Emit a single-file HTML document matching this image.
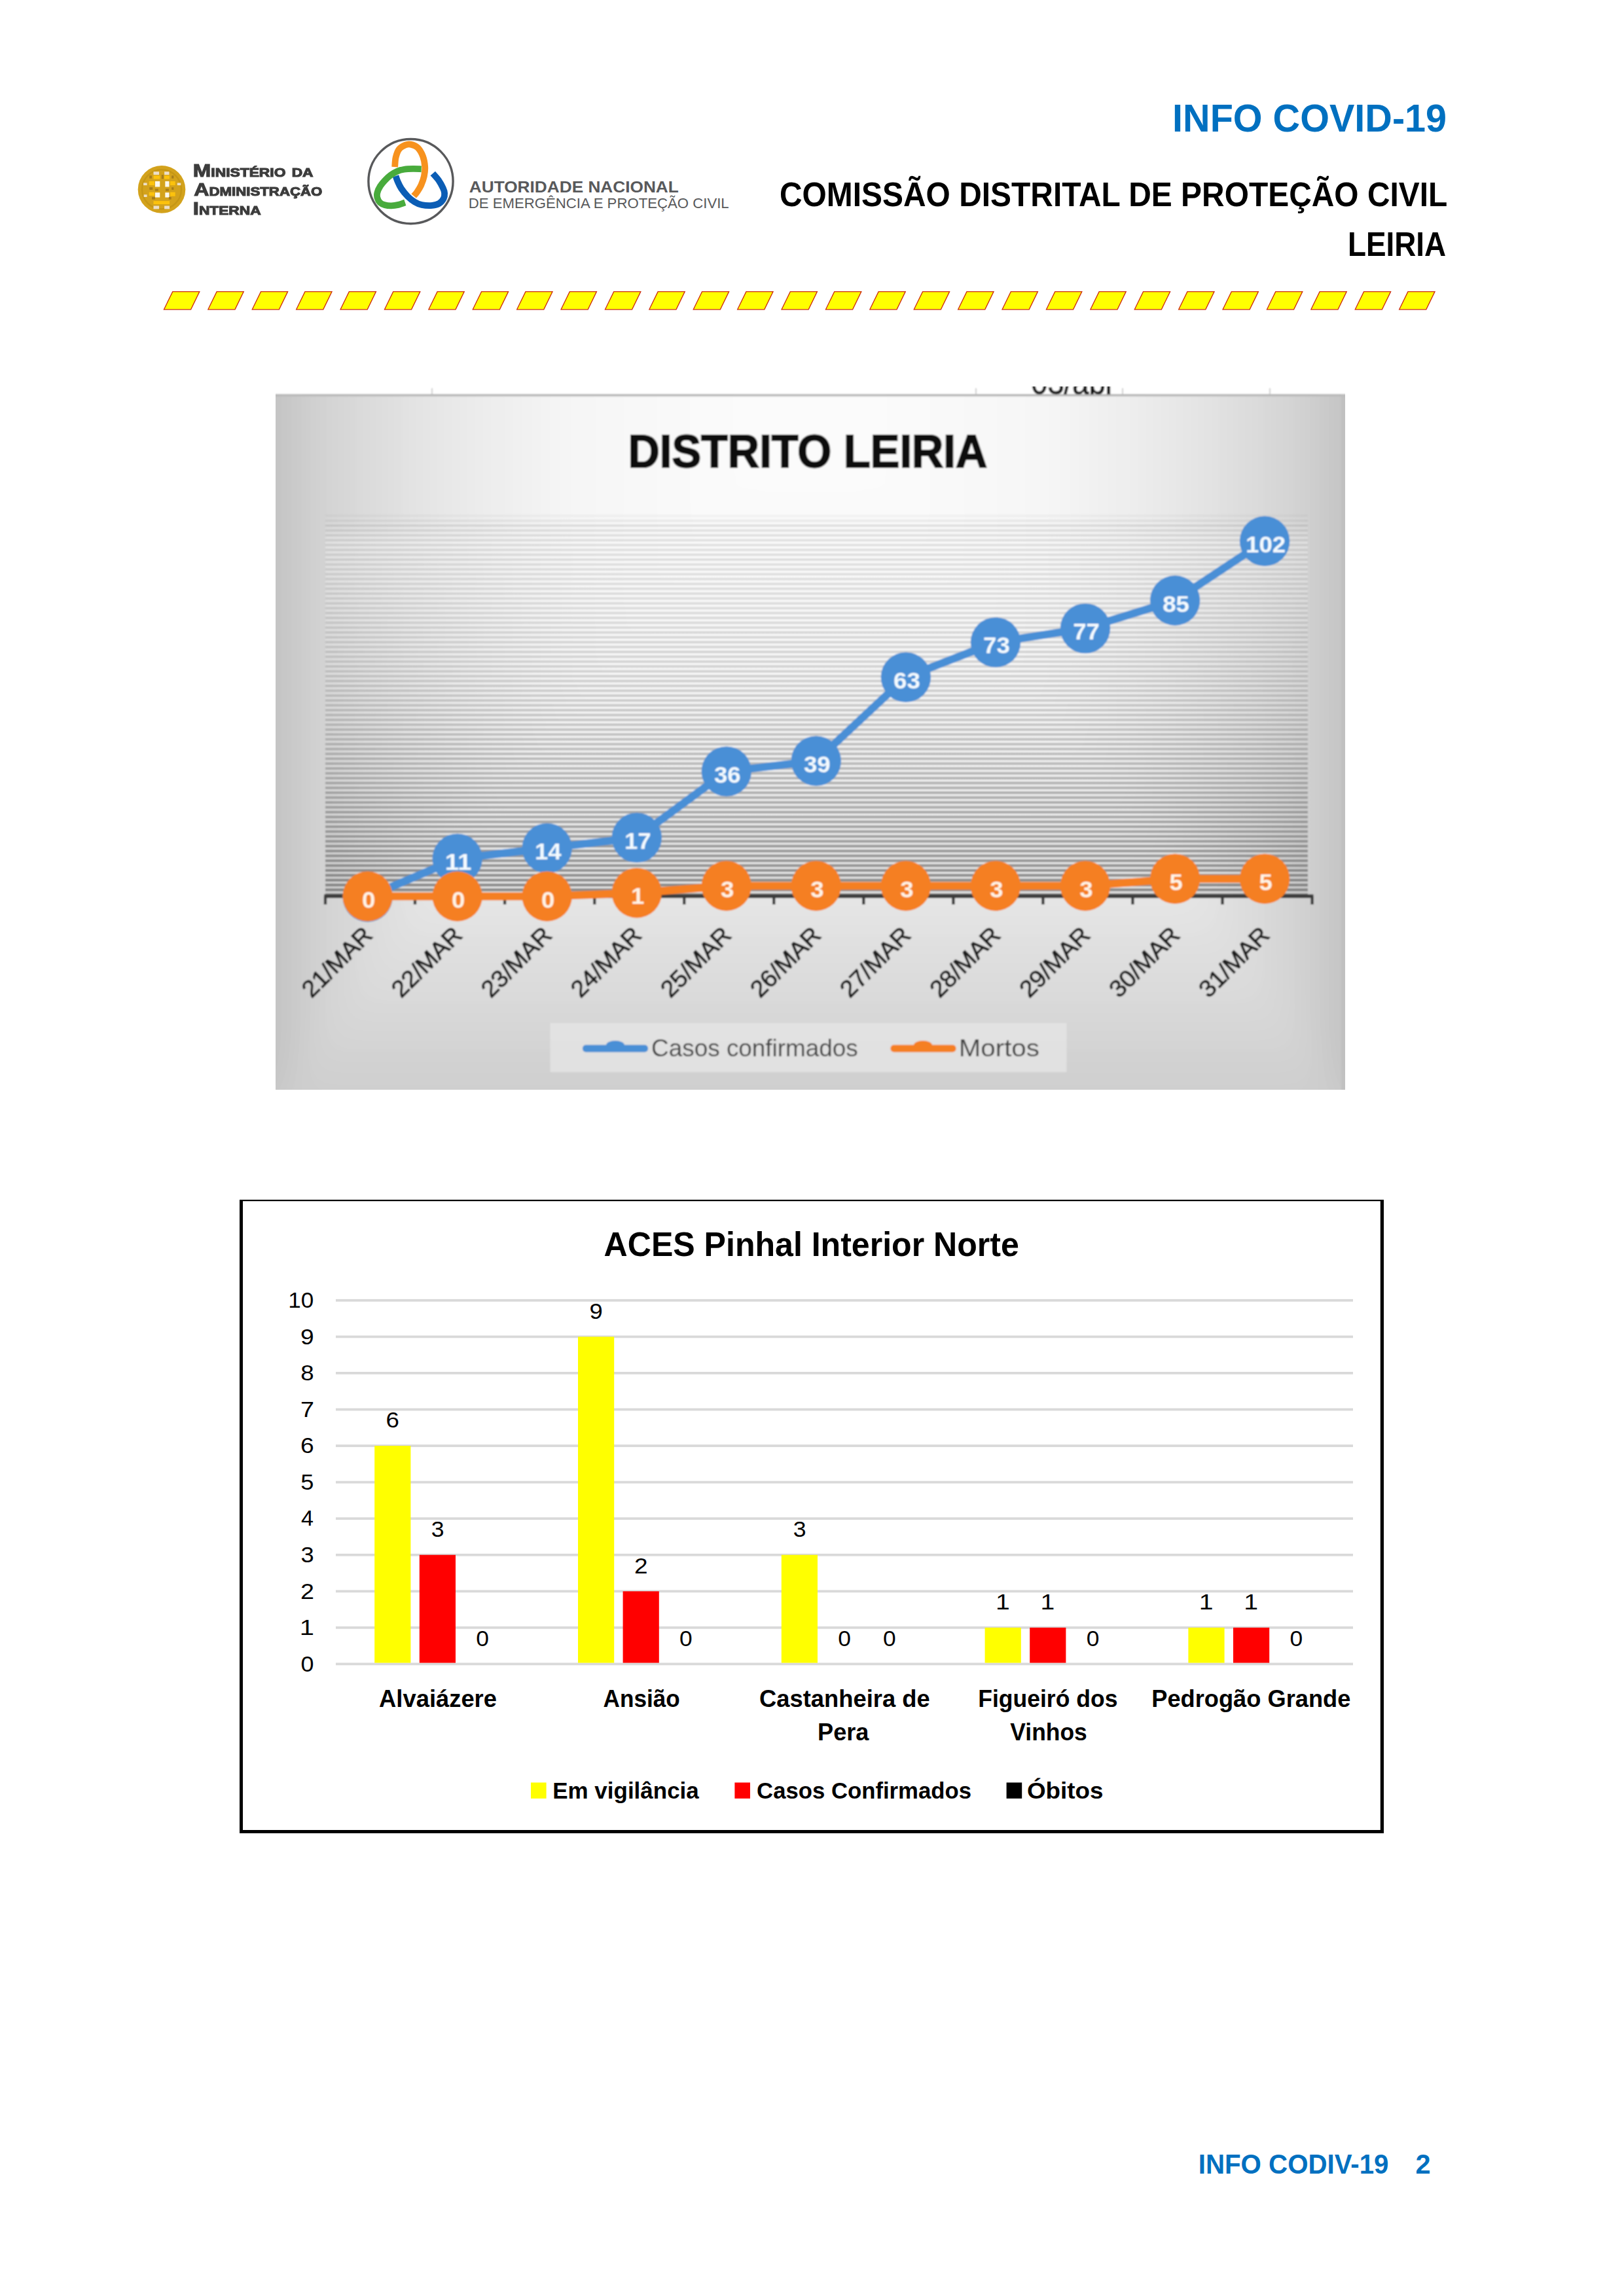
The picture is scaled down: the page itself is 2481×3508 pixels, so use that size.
<!DOCTYPE html>
<html lang="pt"><head><meta charset="utf-8"><title>INFO COVID-19 - Comissão Distrital de Proteção Civil Leiria</title>
<style>
html,body{margin:0;padding:0;background:#fff}
svg{display:block}
text{font-family:"Liberation Sans",sans-serif;white-space:pre}
</style></head><body>
<svg width="2481" height="3508" viewBox="0 0 2481 3508">
<defs>
<linearGradient id="gL" gradientUnits="userSpaceOnUse" x1="1238" y1="0" x2="421" y2="0"><stop offset="0" stop-color="#fcfcfc"/><stop offset="0.41" stop-color="#f7f7f7"/><stop offset="0.54" stop-color="#f1f1f1"/><stop offset="0.66" stop-color="#e9e9e9"/><stop offset="0.78" stop-color="#e0e0e0"/><stop offset="0.9" stop-color="#d4d4d4"/><stop offset="0.96" stop-color="#cccccc"/><stop offset="1.0" stop-color="#c1c1c1"/></linearGradient>
<linearGradient id="gR" gradientUnits="userSpaceOnUse" x1="1238" y1="0" x2="2055" y2="0"><stop offset="0" stop-color="#fcfcfc"/><stop offset="0.41" stop-color="#f7f7f7"/><stop offset="0.54" stop-color="#f1f1f1"/><stop offset="0.66" stop-color="#e9e9e9"/><stop offset="0.78" stop-color="#e0e0e0"/><stop offset="0.9" stop-color="#d4d4d4"/><stop offset="0.96" stop-color="#cccccc"/><stop offset="1.0" stop-color="#c1c1c1"/></linearGradient>
<linearGradient id="gB" gradientUnits="userSpaceOnUse" x1="0" y1="602" x2="0" y2="1665"><stop offset="0" stop-color="#fcfcfc"/><stop offset="0.41" stop-color="#f7f7f7"/><stop offset="0.54" stop-color="#f1f1f1"/><stop offset="0.66" stop-color="#eaeaea"/><stop offset="0.78" stop-color="#e1e1e1"/><stop offset="0.9" stop-color="#d7d7d7"/><stop offset="1.0" stop-color="#cecece"/></linearGradient>
<filter id="blur" x="-2%" y="-2%" width="104%" height="104%"><feGaussianBlur stdDeviation="1.3"/></filter>
<filter id="bgblur" filterUnits="userSpaceOnUse" x="221" y="402" width="2034" height="1463"><feGaussianBlur stdDeviation="28"/></filter>
<filter id="blur2" x="-5%" y="-5%" width="110%" height="110%"><feGaussianBlur stdDeviation="0.7"/></filter>
<clipPath id="chartclip"><rect x="421" y="590.5" width="1634" height="1074.5"/></clipPath>
</defs>
<rect width="2481" height="3508" fill="#fff"/>

<g filter="url(#blur2)">
<circle cx="247" cy="289.4" r="36.3" fill="#d3a21a"/>
<circle cx="247" cy="289.4" r="30" fill="none" stroke="#b98d14" stroke-width="2.2" opacity="0.55"/>
<rect x="236.9" y="276.9" width="7.4" height="8.6" fill="#ffffff" opacity="0.92"/>
<rect x="252.3" y="276.9" width="6.2" height="8.6" fill="#ffffff" opacity="0.92"/>
<rect x="236.9" y="294.2" width="7.4" height="7.4" fill="#ffffff" opacity="0.92"/>
<rect x="252.3" y="294.2" width="6.2" height="7.4" fill="#ffffff" opacity="0.92"/>
<rect x="219.1" y="279.4" width="5.5" height="3.7" fill="#efe4d6" opacity="0.92"/>
<rect x="270.8" y="279.4" width="5.5" height="3.7" fill="#efe4d6" opacity="0.92"/>
<rect x="219.7" y="297.3" width="4.9" height="3.7" fill="#efe4d6" opacity="0.92"/>
<rect x="234.5" y="262.2" width="8.6" height="4.9" fill="#efe4d6" opacity="0.92"/>
<rect x="251.1" y="262.2" width="7.4" height="4.9" fill="#efe4d6" opacity="0.92"/>
<rect x="234.5" y="314.5" width="8.6" height="4.9" fill="#efe4d6" opacity="0.92"/>
<rect x="251.1" y="314.5" width="8.0" height="4.9" fill="#efe4d6" opacity="0.92"/>
<rect x="234.5" y="268.3" width="9.9" height="5.2" fill="#ffc40a" opacity="0.92"/>
<rect x="251.1" y="268.3" width="8.0" height="5.2" fill="#ffc40a" opacity="0.92"/>
<rect x="227.7" y="276.9" width="8.3" height="6.2" fill="#ffc40a" opacity="0.92"/>
<rect x="260.0" y="276.9" width="7.7" height="6.2" fill="#ffc40a" opacity="0.92"/>
<rect x="227.7" y="293.6" width="8.3" height="5.5" fill="#ffc40a" opacity="0.92"/>
<rect x="260.0" y="293.6" width="7.7" height="6.2" fill="#ffc40a" opacity="0.92"/>
<rect x="234.5" y="307.1" width="24.6" height="4.9" fill="#ffc40a" opacity="0.92"/>
<rect x="228.3" y="286.2" width="4.9" height="3.7" fill="#a2781a" opacity="0.92"/>
<rect x="236.9" y="288.6" width="4.9" height="3.1" fill="#a2781a" opacity="0.92"/>
<rect x="253.0" y="288.6" width="4.9" height="3.1" fill="#a2781a" opacity="0.92"/>
<rect x="262.2" y="286.2" width="3.1" height="3.7" fill="#a2781a" opacity="0.92"/>
<rect x="232.0" y="301.0" width="4.9" height="3.7" fill="#a2781a" opacity="0.92"/>
<rect x="257.9" y="301.0" width="3.7" height="3.7" fill="#a2781a" opacity="0.92"/>
<rect x="246.8" y="267.1" width="3.1" height="6.2" fill="#a2781a" opacity="0.92"/>
<rect x="262.2" y="268.3" width="3.1" height="4.3" fill="#a2781a" opacity="0.92"/>
<rect x="228.3" y="268.3" width="3.7" height="4.3" fill="#a2781a" opacity="0.92"/>
</g>
<g filter="url(#blur2)">
<text x="294.8" y="270.3" font-size="27.5" font-weight="bold" fill="#3c3c3c" textLength="183.8" lengthAdjust="spacingAndGlyphs" style="font-variant:small-caps" stroke="#3c3c3c" stroke-width="1.1">Ministério da</text>
<text x="296.2" y="298.8" font-size="27.5" font-weight="bold" fill="#3c3c3c" textLength="196.2" lengthAdjust="spacingAndGlyphs" style="font-variant:small-caps" stroke="#3c3c3c" stroke-width="1.1">Administração</text>
<text x="294.8" y="327.8" font-size="27.5" font-weight="bold" fill="#3c3c3c" textLength="103.8" lengthAdjust="spacingAndGlyphs" style="font-variant:small-caps" stroke="#3c3c3c" stroke-width="1.1">Interna</text>
</g>
<g fill="none" stroke-linecap="butt">
<circle cx="627.5" cy="277.1" r="64.6" stroke="#58595b" stroke-width="3.4"/>
<path d="M661.25 265.00 C662.74 266.76 667.57 271.77 670.18 275.54 C672.78 279.30 675.39 284.32 676.88 287.59 C678.36 290.86 678.96 292.57 679.11 295.18 C679.26 297.78 679.11 300.61 677.77 303.21 C676.43 305.82 673.97 309.02 671.07 310.80 C668.17 312.59 664.82 313.56 660.36 313.93 C655.89 314.30 648.75 313.93 644.29 313.04 C639.82 312.14 637.14 310.73 633.57 308.57 C630.00 306.41 626.28 303.51 622.86 300.09 C619.43 296.67 615.64 291.98 613.04 288.04 C610.43 284.09 608.65 279.63 607.23 276.43 C605.82 273.23 605.00 270.10 604.55 268.84" stroke="#0b5db5" stroke-width="9.8"/>
<path transform="rotate(0 627.5 277.1)" d="M603.20 255.10 C603.43 252.70 603.55 245.18 604.60 240.70 C605.65 236.22 607.05 231.40 609.50 228.20 C611.95 225.00 616.33 222.77 619.30 221.50 C622.27 220.23 624.18 219.93 627.30 220.60 C630.42 221.27 634.87 222.45 638.00 225.50 C641.13 228.55 644.23 233.98 646.10 238.90 C647.97 243.82 648.90 249.93 649.20 255.00 C649.50 260.07 648.87 264.68 647.90 269.30 C646.93 273.92 645.20 278.68 643.40 282.70 C641.60 286.72 638.98 290.63 637.10 293.40 C635.22 296.17 632.93 298.32 632.10 299.30" stroke="#f7921e" stroke-width="9.8"/>
<path d="M643.75 258.30 C641.61 258.23 635.27 257.78 630.89 257.86 C626.52 257.93 621.52 258.11 617.50 258.75 C613.48 259.39 610.21 260.24 606.79 261.70 C603.36 263.15 600.09 265.19 596.96 267.50 C593.84 269.81 590.71 272.71 588.04 275.54 C585.36 278.36 582.83 281.34 580.89 284.46 C578.96 287.59 577.17 291.31 576.43 294.29 C575.68 297.26 575.76 299.79 576.43 302.32 C577.10 304.85 578.51 307.65 580.45 309.46 C582.38 311.28 585.13 312.41 588.04 313.21 C590.94 314.02 594.43 314.35 597.86 314.29 C601.28 314.23 605.07 313.66 608.57 312.86 C612.07 312.05 617.13 310.03 618.84 309.46" stroke="#48ab3c" stroke-width="9.8"/>
</g>
<text x="716.8" y="293.6" font-size="24.6" font-weight="bold" fill="#58595b" textLength="320.0" lengthAdjust="spacingAndGlyphs">AUTORIDADE NACIONAL</text>
<text x="715.7" y="317.6" font-size="21.4" font-weight="normal" fill="#58595b" textLength="398.0" lengthAdjust="spacingAndGlyphs">DE EMERGÊNCIA E PROTEÇÃO CIVIL</text>
<text x="1791.1" y="200.6" font-size="58.6" font-weight="bold" fill="#0070c0" textLength="419.0" lengthAdjust="spacingAndGlyphs">INFO COVID-19</text>
<text x="1191.0" y="314.6" font-size="52.3" font-weight="bold" fill="#000" textLength="1020.4" lengthAdjust="spacingAndGlyphs">COMISSÃO DISTRITAL DE PROTEÇÃO CIVIL</text>
<text x="2058.9" y="391.0" font-size="52.3" font-weight="bold" fill="#000" textLength="150.3" lengthAdjust="spacingAndGlyphs">LEIRIA</text>
<g fill="#ffff00" stroke="#cc2a0a" stroke-width="1.3" stroke-linejoin="miter">
<path d="M250.5 472.8 L263.7 445.6 L304.8 445.6 L291.6 472.8 Z"/>
<path d="M317.9 472.8 L331.1 445.6 L372.2 445.6 L359.0 472.8 Z"/>
<path d="M385.3 472.8 L398.5 445.6 L439.6 445.6 L426.4 472.8 Z"/>
<path d="M452.7 472.8 L465.9 445.6 L507.0 445.6 L493.8 472.8 Z"/>
<path d="M520.1 472.8 L533.3 445.6 L574.4 445.6 L561.2 472.8 Z"/>
<path d="M587.5 472.8 L600.7 445.6 L641.8 445.6 L628.6 472.8 Z"/>
<path d="M654.9 472.8 L668.1 445.6 L709.2 445.6 L696.0 472.8 Z"/>
<path d="M722.3 472.8 L735.5 445.6 L776.6 445.6 L763.4 472.8 Z"/>
<path d="M789.7 472.8 L802.9 445.6 L844.0 445.6 L830.8 472.8 Z"/>
<path d="M857.1 472.8 L870.3 445.6 L911.4 445.6 L898.2 472.8 Z"/>
<path d="M924.5 472.8 L937.7 445.6 L978.8 445.6 L965.6 472.8 Z"/>
<path d="M991.9 472.8 L1005.1 445.6 L1046.2 445.6 L1033.0 472.8 Z"/>
<path d="M1059.3 472.8 L1072.5 445.6 L1113.6 445.6 L1100.4 472.8 Z"/>
<path d="M1126.7 472.8 L1139.9 445.6 L1181.0 445.6 L1167.8 472.8 Z"/>
<path d="M1194.1 472.8 L1207.3 445.6 L1248.4 445.6 L1235.2 472.8 Z"/>
<path d="M1261.5 472.8 L1274.7 445.6 L1315.8 445.6 L1302.6 472.8 Z"/>
<path d="M1328.9 472.8 L1342.1 445.6 L1383.2 445.6 L1370.0 472.8 Z"/>
<path d="M1396.3 472.8 L1409.5 445.6 L1450.6 445.6 L1437.4 472.8 Z"/>
<path d="M1463.7 472.8 L1476.9 445.6 L1518.0 445.6 L1504.8 472.8 Z"/>
<path d="M1531.1 472.8 L1544.3 445.6 L1585.4 445.6 L1572.2 472.8 Z"/>
<path d="M1598.5 472.8 L1611.7 445.6 L1652.8 445.6 L1639.6 472.8 Z"/>
<path d="M1665.9 472.8 L1679.1 445.6 L1720.2 445.6 L1707.0 472.8 Z"/>
<path d="M1733.3 472.8 L1746.5 445.6 L1787.6 445.6 L1774.4 472.8 Z"/>
<path d="M1800.7 472.8 L1813.9 445.6 L1855.0 445.6 L1841.8 472.8 Z"/>
<path d="M1868.1 472.8 L1881.3 445.6 L1922.4 445.6 L1909.2 472.8 Z"/>
<path d="M1935.5 472.8 L1948.7 445.6 L1989.8 445.6 L1976.6 472.8 Z"/>
<path d="M2002.9 472.8 L2016.1 445.6 L2057.2 445.6 L2044.0 472.8 Z"/>
<path d="M2070.3 472.8 L2083.5 445.6 L2124.6 445.6 L2111.4 472.8 Z"/>
<path d="M2137.7 472.8 L2150.9 445.6 L2192.0 445.6 L2178.8 472.8 Z"/>
</g>
<g clip-path="url(#chartclip)"><g filter="url(#blur)">
<g filter="url(#bgblur)">
<rect x="221" y="402" width="2034" height="1463" fill="#c7c7c7"/>
<path d="M1240 402 L1240 602 L221 1928 L221 402 Z" fill="url(#gL)"/>
<path d="M1236 402 L1236 602 L2255 1928 L2255 402 Z" fill="url(#gR)"/>
<path d="M1238 600 L2257 1928 L219 1928 Z" fill="url(#gB)"/>
</g>
<rect x="400" y="570" width="1680" height="32" fill="#fff"/>
<g stroke="#cfcfcf" stroke-width="2">
<line x1="660" y1="593" x2="660" y2="603"/>
<line x1="1491" y1="593" x2="1491" y2="603"/>
<line x1="1715" y1="593" x2="1715" y2="603"/>
<line x1="1940" y1="593" x2="1940" y2="603"/>
</g>
<rect x="417" y="602" width="1642" height="3.6" fill="#b9b9b9"/>
<rect x="2049" y="602" width="8" height="1069" fill="#bcbcbc" opacity="0.6"/>
<text x="1575.2" y="601.5" font-size="50.0" font-weight="normal" fill="#1a1a1a" textLength="128.5" lengthAdjust="spacingAndGlyphs" stroke="#1a1a1a" stroke-width="1.2">03/abr</text>
<linearGradient id="pw" x1="0" y1="0" x2="0" y2="1"><stop offset="0" stop-color="#fff" stop-opacity="0.05"/><stop offset="0.07" stop-color="#fff" stop-opacity="0.36"/><stop offset="1" stop-color="#fff" stop-opacity="0"/></linearGradient>
<rect x="497" y="789" width="1501" height="582" fill="url(#pw)"/>
<g fill="#606060">
<rect x="497" y="1364.75" width="1501" height="4.49" opacity="0.707"/>
<rect x="497" y="1357.34" width="1501" height="4.48" opacity="0.693"/>
<rect x="497" y="1349.93" width="1501" height="4.47" opacity="0.679"/>
<rect x="497" y="1342.51" width="1501" height="4.46" opacity="0.665"/>
<rect x="497" y="1335.10" width="1501" height="4.44" opacity="0.652"/>
<rect x="497" y="1327.68" width="1501" height="4.43" opacity="0.638"/>
<rect x="497" y="1320.27" width="1501" height="4.42" opacity="0.625"/>
<rect x="497" y="1312.86" width="1501" height="4.41" opacity="0.612"/>
<rect x="497" y="1305.44" width="1501" height="4.40" opacity="0.599"/>
<rect x="497" y="1298.03" width="1501" height="4.39" opacity="0.587"/>
<rect x="497" y="1290.61" width="1501" height="4.37" opacity="0.575"/>
<rect x="497" y="1283.20" width="1501" height="4.36" opacity="0.562"/>
<rect x="497" y="1275.78" width="1501" height="4.35" opacity="0.550"/>
<rect x="497" y="1268.37" width="1501" height="4.34" opacity="0.539"/>
<rect x="497" y="1260.95" width="1501" height="4.33" opacity="0.527"/>
<rect x="497" y="1253.54" width="1501" height="4.32" opacity="0.516"/>
<rect x="497" y="1246.12" width="1501" height="4.31" opacity="0.505"/>
<rect x="497" y="1238.71" width="1501" height="4.30" opacity="0.494"/>
<rect x="497" y="1231.29" width="1501" height="4.29" opacity="0.483"/>
<rect x="497" y="1223.88" width="1501" height="4.28" opacity="0.473"/>
<rect x="497" y="1216.46" width="1501" height="4.27" opacity="0.462"/>
<rect x="497" y="1209.05" width="1501" height="4.26" opacity="0.452"/>
<rect x="497" y="1201.63" width="1501" height="4.25" opacity="0.442"/>
<rect x="497" y="1194.22" width="1501" height="4.24" opacity="0.432"/>
<rect x="497" y="1186.80" width="1501" height="4.23" opacity="0.423"/>
<rect x="497" y="1179.39" width="1501" height="4.23" opacity="0.413"/>
<rect x="497" y="1171.97" width="1501" height="4.22" opacity="0.404"/>
<rect x="497" y="1164.56" width="1501" height="4.21" opacity="0.395"/>
<rect x="497" y="1157.14" width="1501" height="4.20" opacity="0.387"/>
<rect x="497" y="1149.72" width="1501" height="4.19" opacity="0.378"/>
<rect x="497" y="1142.31" width="1501" height="4.19" opacity="0.369"/>
<rect x="497" y="1134.89" width="1501" height="4.18" opacity="0.361"/>
<rect x="497" y="1127.48" width="1501" height="4.17" opacity="0.353"/>
<rect x="497" y="1120.06" width="1501" height="4.16" opacity="0.345"/>
<rect x="497" y="1112.64" width="1501" height="4.16" opacity="0.338"/>
<rect x="497" y="1105.23" width="1501" height="4.15" opacity="0.330"/>
<rect x="497" y="1097.81" width="1501" height="4.14" opacity="0.323"/>
<rect x="497" y="1090.39" width="1501" height="4.13" opacity="0.316"/>
<rect x="497" y="1082.98" width="1501" height="4.13" opacity="0.309"/>
<rect x="497" y="1075.56" width="1501" height="4.12" opacity="0.302"/>
<rect x="497" y="1068.14" width="1501" height="4.12" opacity="0.295"/>
<rect x="497" y="1060.73" width="1501" height="4.11" opacity="0.289"/>
<rect x="497" y="1053.31" width="1501" height="4.10" opacity="0.283"/>
<rect x="497" y="1045.89" width="1501" height="4.10" opacity="0.277"/>
<rect x="497" y="1038.47" width="1501" height="4.09" opacity="0.271"/>
<rect x="497" y="1031.06" width="1501" height="4.09" opacity="0.265"/>
<rect x="497" y="1023.64" width="1501" height="4.08" opacity="0.260"/>
<rect x="497" y="1016.22" width="1501" height="4.08" opacity="0.254"/>
<rect x="497" y="1008.80" width="1501" height="4.07" opacity="0.249"/>
<rect x="497" y="1001.39" width="1501" height="4.07" opacity="0.244"/>
<rect x="497" y="993.97" width="1501" height="4.06" opacity="0.239"/>
<rect x="497" y="986.55" width="1501" height="4.06" opacity="0.235"/>
<rect x="497" y="979.13" width="1501" height="4.05" opacity="0.230"/>
<rect x="497" y="971.72" width="1501" height="4.05" opacity="0.226"/>
<rect x="497" y="964.30" width="1501" height="4.05" opacity="0.222"/>
<rect x="497" y="956.88" width="1501" height="4.04" opacity="0.218"/>
<rect x="497" y="949.46" width="1501" height="4.04" opacity="0.214"/>
<rect x="497" y="942.04" width="1501" height="4.03" opacity="0.210"/>
<rect x="497" y="934.62" width="1501" height="4.03" opacity="0.207"/>
<rect x="497" y="927.21" width="1501" height="4.03" opacity="0.204"/>
<rect x="497" y="919.79" width="1501" height="4.03" opacity="0.201"/>
<rect x="497" y="912.37" width="1501" height="4.02" opacity="0.198"/>
<rect x="497" y="904.95" width="1501" height="4.02" opacity="0.195"/>
<rect x="497" y="897.53" width="1501" height="4.02" opacity="0.192"/>
<rect x="497" y="890.11" width="1501" height="4.01" opacity="0.190"/>
<rect x="497" y="882.69" width="1501" height="4.01" opacity="0.188"/>
<rect x="497" y="875.27" width="1501" height="4.01" opacity="0.185"/>
<rect x="497" y="867.86" width="1501" height="4.01" opacity="0.183"/>
<rect x="497" y="860.44" width="1501" height="4.01" opacity="0.182"/>
<rect x="497" y="853.02" width="1501" height="4.01" opacity="0.180"/>
<rect x="497" y="845.60" width="1501" height="4.00" opacity="0.179"/>
<rect x="497" y="838.18" width="1501" height="4.00" opacity="0.177"/>
<rect x="497" y="830.76" width="1501" height="4.00" opacity="0.176"/>
<rect x="497" y="823.34" width="1501" height="4.00" opacity="0.175"/>
<rect x="497" y="815.92" width="1501" height="4.00" opacity="0.174"/>
<rect x="497" y="808.50" width="1501" height="4.00" opacity="0.174"/>
<rect x="497" y="801.08" width="1501" height="4.00" opacity="0.173"/>
<rect x="497" y="793.66" width="1501" height="4.00" opacity="0.104"/>
<rect x="497" y="786.24" width="1501" height="4.00" opacity="0.052"/>
</g>
<text x="959.5" y="714.0" font-size="70.5" font-weight="bold" fill="#0a0a0a" textLength="548.7" lengthAdjust="spacingAndGlyphs" stroke="#0a0a0a" stroke-width="2">DISTRITO LEIRIA</text>
<rect x="495" y="1366.5" width="1511.5" height="5.6" fill="#3a3a3a"/>
<rect x="494.8" y="1369" width="4.4" height="13" fill="#3a3a3a"/>
<rect x="631.8" y="1369" width="4.4" height="13" fill="#3a3a3a"/>
<rect x="768.9" y="1369" width="4.4" height="13" fill="#3a3a3a"/>
<rect x="906.0" y="1369" width="4.4" height="13" fill="#3a3a3a"/>
<rect x="1043.0" y="1369" width="4.4" height="13" fill="#3a3a3a"/>
<rect x="1180.0" y="1369" width="4.4" height="13" fill="#3a3a3a"/>
<rect x="1317.1" y="1369" width="4.4" height="13" fill="#3a3a3a"/>
<rect x="1454.2" y="1369" width="4.4" height="13" fill="#3a3a3a"/>
<rect x="1591.2" y="1369" width="4.4" height="13" fill="#3a3a3a"/>
<rect x="1728.2" y="1369" width="4.4" height="13" fill="#3a3a3a"/>
<rect x="1865.3" y="1369" width="4.4" height="13" fill="#3a3a3a"/>
<rect x="2002.4" y="1369" width="4.4" height="13" fill="#3a3a3a"/>
<polyline points="561.6,1370.5 698.7,1311.9 835.7,1295.9 972.8,1279.9 1109.8,1178.6 1246.8,1162.6 1383.9,1034.7 1521.0,981.4 1658.0,960.1 1795.1,917.5 1932.1,826.8" fill="none" stroke="#4a8fd6" stroke-width="12" stroke-linejoin="round" stroke-linecap="round"/><circle cx="561.6" cy="1370.5" r="38.2" fill="#4a8fd6"/><circle cx="698.7" cy="1311.9" r="38.2" fill="#4a8fd6"/><circle cx="835.7" cy="1295.9" r="38.2" fill="#4a8fd6"/><circle cx="972.8" cy="1279.9" r="38.2" fill="#4a8fd6"/><circle cx="1109.8" cy="1178.6" r="38.2" fill="#4a8fd6"/><circle cx="1246.8" cy="1162.6" r="38.2" fill="#4a8fd6"/><circle cx="1383.9" cy="1034.7" r="38.2" fill="#4a8fd6"/><circle cx="1521.0" cy="981.4" r="38.2" fill="#4a8fd6"/><circle cx="1658.0" cy="960.1" r="38.2" fill="#4a8fd6"/><circle cx="1795.1" cy="917.5" r="38.2" fill="#4a8fd6"/><circle cx="1932.1" cy="826.8" r="38.2" fill="#4a8fd6"/>
<text x="552.9" y="1387.5" font-size="34.5" font-weight="bold" fill="#f4fbff" textLength="20.3" lengthAdjust="spacingAndGlyphs">0</text>
<text x="679.8" y="1328.9" font-size="34.5" font-weight="bold" fill="#f4fbff" textLength="40.7" lengthAdjust="spacingAndGlyphs">11</text>
<text x="816.9" y="1312.9" font-size="34.5" font-weight="bold" fill="#f4fbff" textLength="40.7" lengthAdjust="spacingAndGlyphs">14</text>
<text x="953.9" y="1296.9" font-size="34.5" font-weight="bold" fill="#f4fbff" textLength="40.7" lengthAdjust="spacingAndGlyphs">17</text>
<text x="1091.0" y="1195.6" font-size="34.5" font-weight="bold" fill="#f4fbff" textLength="40.7" lengthAdjust="spacingAndGlyphs">36</text>
<text x="1228.0" y="1179.6" font-size="34.5" font-weight="bold" fill="#f4fbff" textLength="40.7" lengthAdjust="spacingAndGlyphs">39</text>
<text x="1365.1" y="1051.7" font-size="34.5" font-weight="bold" fill="#f4fbff" textLength="40.7" lengthAdjust="spacingAndGlyphs">63</text>
<text x="1502.1" y="998.4" font-size="34.5" font-weight="bold" fill="#f4fbff" textLength="40.7" lengthAdjust="spacingAndGlyphs">73</text>
<text x="1639.2" y="977.1" font-size="34.5" font-weight="bold" fill="#f4fbff" textLength="40.7" lengthAdjust="spacingAndGlyphs">77</text>
<text x="1776.2" y="934.5" font-size="34.5" font-weight="bold" fill="#f4fbff" textLength="40.7" lengthAdjust="spacingAndGlyphs">85</text>
<text x="1903.1" y="843.8" font-size="34.5" font-weight="bold" fill="#f4fbff" textLength="61.0" lengthAdjust="spacingAndGlyphs">102</text>
<polyline points="561.6,1369.5 698.7,1369.5 835.7,1369.5 972.8,1364.2 1109.8,1353.5 1246.8,1353.5 1383.9,1353.5 1521.0,1353.5 1658.0,1353.5 1795.1,1342.8 1932.1,1342.8" fill="none" stroke="#f57f20" stroke-width="12" stroke-linejoin="round" stroke-linecap="round"/><circle cx="561.6" cy="1369.5" r="38.2" fill="#f57f20"/><circle cx="698.7" cy="1369.5" r="38.2" fill="#f57f20"/><circle cx="835.7" cy="1369.5" r="38.2" fill="#f57f20"/><circle cx="972.8" cy="1364.2" r="38.2" fill="#f57f20"/><circle cx="1109.8" cy="1353.5" r="38.2" fill="#f57f20"/><circle cx="1246.8" cy="1353.5" r="38.2" fill="#f57f20"/><circle cx="1383.9" cy="1353.5" r="38.2" fill="#f57f20"/><circle cx="1521.0" cy="1353.5" r="38.2" fill="#f57f20"/><circle cx="1658.0" cy="1353.5" r="38.2" fill="#f57f20"/><circle cx="1795.1" cy="1342.8" r="38.2" fill="#f57f20"/><circle cx="1932.1" cy="1342.8" r="38.2" fill="#f57f20"/>
<text x="552.9" y="1386.5" font-size="34.5" font-weight="bold" fill="#fff4e6" textLength="20.3" lengthAdjust="spacingAndGlyphs">0</text>
<text x="690.0" y="1386.5" font-size="34.5" font-weight="bold" fill="#fff4e6" textLength="20.3" lengthAdjust="spacingAndGlyphs">0</text>
<text x="827.0" y="1386.5" font-size="34.5" font-weight="bold" fill="#fff4e6" textLength="20.3" lengthAdjust="spacingAndGlyphs">0</text>
<text x="964.1" y="1381.2" font-size="34.5" font-weight="bold" fill="#fff4e6" textLength="20.3" lengthAdjust="spacingAndGlyphs">1</text>
<text x="1101.1" y="1370.5" font-size="34.5" font-weight="bold" fill="#fff4e6" textLength="20.3" lengthAdjust="spacingAndGlyphs">3</text>
<text x="1238.2" y="1370.5" font-size="34.5" font-weight="bold" fill="#fff4e6" textLength="20.3" lengthAdjust="spacingAndGlyphs">3</text>
<text x="1375.2" y="1370.5" font-size="34.5" font-weight="bold" fill="#fff4e6" textLength="20.3" lengthAdjust="spacingAndGlyphs">3</text>
<text x="1512.3" y="1370.5" font-size="34.5" font-weight="bold" fill="#fff4e6" textLength="20.3" lengthAdjust="spacingAndGlyphs">3</text>
<text x="1649.3" y="1370.5" font-size="34.5" font-weight="bold" fill="#fff4e6" textLength="20.3" lengthAdjust="spacingAndGlyphs">3</text>
<text x="1786.4" y="1359.8" font-size="34.5" font-weight="bold" fill="#fff4e6" textLength="20.3" lengthAdjust="spacingAndGlyphs">5</text>
<text x="1923.4" y="1359.8" font-size="34.5" font-weight="bold" fill="#fff4e6" textLength="20.3" lengthAdjust="spacingAndGlyphs">5</text>
<text transform="translate(571.1 1431) rotate(-45)" x="-134.5" y="0" font-size="36.5" fill="#1c1c1c" stroke="#1c1c1c" stroke-width="1" textLength="134.5" lengthAdjust="spacingAndGlyphs">21/MAR</text>
<text transform="translate(708.2 1431) rotate(-45)" x="-134.5" y="0" font-size="36.5" fill="#1c1c1c" stroke="#1c1c1c" stroke-width="1" textLength="134.5" lengthAdjust="spacingAndGlyphs">22/MAR</text>
<text transform="translate(845.2 1431) rotate(-45)" x="-134.5" y="0" font-size="36.5" fill="#1c1c1c" stroke="#1c1c1c" stroke-width="1" textLength="134.5" lengthAdjust="spacingAndGlyphs">23/MAR</text>
<text transform="translate(982.2 1431) rotate(-45)" x="-134.5" y="0" font-size="36.5" fill="#1c1c1c" stroke="#1c1c1c" stroke-width="1" textLength="134.5" lengthAdjust="spacingAndGlyphs">24/MAR</text>
<text transform="translate(1119.3 1431) rotate(-45)" x="-134.5" y="0" font-size="36.5" fill="#1c1c1c" stroke="#1c1c1c" stroke-width="1" textLength="134.5" lengthAdjust="spacingAndGlyphs">25/MAR</text>
<text transform="translate(1256.3 1431) rotate(-45)" x="-134.5" y="0" font-size="36.5" fill="#1c1c1c" stroke="#1c1c1c" stroke-width="1" textLength="134.5" lengthAdjust="spacingAndGlyphs">26/MAR</text>
<text transform="translate(1393.4 1431) rotate(-45)" x="-134.5" y="0" font-size="36.5" fill="#1c1c1c" stroke="#1c1c1c" stroke-width="1" textLength="134.5" lengthAdjust="spacingAndGlyphs">27/MAR</text>
<text transform="translate(1530.5 1431) rotate(-45)" x="-134.5" y="0" font-size="36.5" fill="#1c1c1c" stroke="#1c1c1c" stroke-width="1" textLength="134.5" lengthAdjust="spacingAndGlyphs">28/MAR</text>
<text transform="translate(1667.5 1431) rotate(-45)" x="-134.5" y="0" font-size="36.5" fill="#1c1c1c" stroke="#1c1c1c" stroke-width="1" textLength="134.5" lengthAdjust="spacingAndGlyphs">29/MAR</text>
<text transform="translate(1804.6 1431) rotate(-45)" x="-134.5" y="0" font-size="36.5" fill="#1c1c1c" stroke="#1c1c1c" stroke-width="1" textLength="134.5" lengthAdjust="spacingAndGlyphs">30/MAR</text>
<text transform="translate(1941.6 1431) rotate(-45)" x="-134.5" y="0" font-size="36.5" fill="#1c1c1c" stroke="#1c1c1c" stroke-width="1" textLength="134.5" lengthAdjust="spacingAndGlyphs">31/MAR</text>
<rect x="840.5" y="1563" width="789" height="75" fill="#e6e6e6" opacity="0.75"/>
<rect x="890" y="1596.5" width="100" height="11" rx="5" fill="#4a8fd6"/><ellipse cx="940" cy="1597" rx="14" ry="7" fill="#4a8fd6"/>
<text x="995.1" y="1614.0" font-size="36.5" font-weight="normal" fill="#404040" textLength="315.7" lengthAdjust="spacingAndGlyphs">Casos confirmados</text>
<rect x="1360.5" y="1596.5" width="100" height="11" rx="5" fill="#f57f20"/><ellipse cx="1410" cy="1597" rx="14" ry="7" fill="#f57f20"/>
<text x="1464.7" y="1614.0" font-size="36.5" font-weight="normal" fill="#404040" textLength="123.3" lengthAdjust="spacingAndGlyphs">Mortos</text>
</g></g>
<rect x="366" y="1833" width="1748" height="968" fill="#000"/>
<rect x="371" y="1835.2" width="1737.8" height="960.8" fill="#fff"/>
<text x="922.6" y="1919.2" font-size="51.4" font-weight="bold" fill="#000" textLength="634.2" lengthAdjust="spacingAndGlyphs">ACES Pinhal Interior Norte</text>
<rect x="513" y="2540.5" width="1554" height="3.8" fill="#d9d9d9"/>
<text x="459.4" y="2553.6" font-size="32.8" font-weight="normal" fill="#000" textLength="20.0" lengthAdjust="spacingAndGlyphs">0</text>
<rect x="513" y="2484.9" width="1554" height="3.8" fill="#d9d9d9"/>
<text x="457.8" y="2498.0" font-size="32.8" font-weight="normal" fill="#000" textLength="22.2" lengthAdjust="spacingAndGlyphs">1</text>
<rect x="513" y="2429.4" width="1554" height="3.8" fill="#d9d9d9"/>
<text x="458.9" y="2442.5" font-size="32.8" font-weight="normal" fill="#000" textLength="21.0" lengthAdjust="spacingAndGlyphs">2</text>
<rect x="513" y="2373.8" width="1554" height="3.8" fill="#d9d9d9"/>
<text x="459.4" y="2386.9" font-size="32.8" font-weight="normal" fill="#000" textLength="20.2" lengthAdjust="spacingAndGlyphs">3</text>
<rect x="513" y="2318.3" width="1554" height="3.8" fill="#d9d9d9"/>
<text x="460.0" y="2331.4" font-size="32.8" font-weight="normal" fill="#000" textLength="19.0" lengthAdjust="spacingAndGlyphs">4</text>
<rect x="513" y="2262.7" width="1554" height="3.8" fill="#d9d9d9"/>
<text x="459.3" y="2275.8" font-size="32.8" font-weight="normal" fill="#000" textLength="20.2" lengthAdjust="spacingAndGlyphs">5</text>
<rect x="513" y="2207.1" width="1554" height="3.8" fill="#d9d9d9"/>
<text x="458.9" y="2220.2" font-size="32.8" font-weight="normal" fill="#000" textLength="20.7" lengthAdjust="spacingAndGlyphs">6</text>
<rect x="513" y="2151.6" width="1554" height="3.8" fill="#d9d9d9"/>
<text x="458.9" y="2164.7" font-size="32.8" font-weight="normal" fill="#000" textLength="21.0" lengthAdjust="spacingAndGlyphs">7</text>
<rect x="513" y="2096.0" width="1554" height="3.8" fill="#d9d9d9"/>
<text x="459.2" y="2109.1" font-size="32.8" font-weight="normal" fill="#000" textLength="20.4" lengthAdjust="spacingAndGlyphs">8</text>
<rect x="513" y="2040.5" width="1554" height="3.8" fill="#d9d9d9"/>
<text x="459.1" y="2053.6" font-size="32.8" font-weight="normal" fill="#000" textLength="20.7" lengthAdjust="spacingAndGlyphs">9</text>
<rect x="513" y="1984.9" width="1554" height="3.8" fill="#d9d9d9"/>
<text x="440.3" y="1998.0" font-size="32.8" font-weight="normal" fill="#000" textLength="39.0" lengthAdjust="spacingAndGlyphs">10</text>
<rect x="572.2" y="2209.0" width="55.2" height="331.6" fill="#ffff00"/>
<text x="589.6" y="2181.4" font-size="32.8" font-weight="normal" fill="#000" textLength="20.4" lengthAdjust="spacingAndGlyphs">6</text>
<rect x="640.8" y="2375.7" width="55.2" height="164.9" fill="#ff0000"/>
<text x="658.7" y="2348.1" font-size="32.8" font-weight="normal" fill="#000" textLength="19.8" lengthAdjust="spacingAndGlyphs">3</text>
<text x="727.3" y="2514.8" font-size="32.8" font-weight="normal" fill="#000" textLength="19.7" lengthAdjust="spacingAndGlyphs">0</text>
<rect x="883.0" y="2042.4" width="55.2" height="498.2" fill="#ffff00"/>
<text x="900.6" y="2014.8" font-size="32.8" font-weight="normal" fill="#000" textLength="20.3" lengthAdjust="spacingAndGlyphs">9</text>
<rect x="951.6" y="2431.3" width="55.2" height="109.3" fill="#ff0000"/>
<text x="969.0" y="2403.7" font-size="32.8" font-weight="normal" fill="#000" textLength="20.6" lengthAdjust="spacingAndGlyphs">2</text>
<text x="1038.1" y="2514.8" font-size="32.8" font-weight="normal" fill="#000" textLength="19.7" lengthAdjust="spacingAndGlyphs">0</text>
<rect x="1193.8" y="2375.7" width="55.2" height="164.9" fill="#ffff00"/>
<text x="1211.7" y="2348.1" font-size="32.8" font-weight="normal" fill="#000" textLength="19.8" lengthAdjust="spacingAndGlyphs">3</text>
<text x="1280.3" y="2514.8" font-size="32.8" font-weight="normal" fill="#000" textLength="19.7" lengthAdjust="spacingAndGlyphs">0</text>
<text x="1348.9" y="2514.8" font-size="32.8" font-weight="normal" fill="#000" textLength="19.7" lengthAdjust="spacingAndGlyphs">0</text>
<rect x="1504.6" y="2486.8" width="55.2" height="53.8" fill="#ffff00"/>
<text x="1520.9" y="2459.2" font-size="32.8" font-weight="normal" fill="#000" textLength="21.8" lengthAdjust="spacingAndGlyphs">1</text>
<rect x="1573.2" y="2486.8" width="55.2" height="53.8" fill="#ff0000"/>
<text x="1589.5" y="2459.2" font-size="32.8" font-weight="normal" fill="#000" textLength="21.8" lengthAdjust="spacingAndGlyphs">1</text>
<text x="1659.7" y="2514.8" font-size="32.8" font-weight="normal" fill="#000" textLength="19.7" lengthAdjust="spacingAndGlyphs">0</text>
<rect x="1815.4" y="2486.8" width="55.2" height="53.8" fill="#ffff00"/>
<text x="1831.7" y="2459.2" font-size="32.8" font-weight="normal" fill="#000" textLength="21.8" lengthAdjust="spacingAndGlyphs">1</text>
<rect x="1884.0" y="2486.8" width="55.2" height="53.8" fill="#ff0000"/>
<text x="1900.3" y="2459.2" font-size="32.8" font-weight="normal" fill="#000" textLength="21.8" lengthAdjust="spacingAndGlyphs">1</text>
<text x="1970.5" y="2514.8" font-size="32.8" font-weight="normal" fill="#000" textLength="19.7" lengthAdjust="spacingAndGlyphs">0</text>
<text x="579.1" y="2607.8" font-size="36.2" font-weight="bold" fill="#000" textLength="179.9" lengthAdjust="spacingAndGlyphs">Alvaiázere</text>
<text x="921.6" y="2607.8" font-size="36.2" font-weight="bold" fill="#000" textLength="117.2" lengthAdjust="spacingAndGlyphs">Ansião</text>
<text x="1160.1" y="2607.8" font-size="36.2" font-weight="bold" fill="#000" textLength="260.5" lengthAdjust="spacingAndGlyphs">Castanheira de</text>
<text x="1249.1" y="2659.0" font-size="36.2" font-weight="bold" fill="#000" textLength="78.3" lengthAdjust="spacingAndGlyphs">Pera</text>
<text x="1494.3" y="2607.8" font-size="36.2" font-weight="bold" fill="#000" textLength="213.1" lengthAdjust="spacingAndGlyphs">Figueiró dos</text>
<text x="1543.3" y="2659.0" font-size="36.2" font-weight="bold" fill="#000" textLength="117.5" lengthAdjust="spacingAndGlyphs">Vinhos</text>
<text x="1759.3" y="2607.8" font-size="36.2" font-weight="bold" fill="#000" textLength="304.0" lengthAdjust="spacingAndGlyphs">Pedrogão Grande</text>
<rect x="811" y="2723.5" width="23.6" height="24.4" fill="#ffff00"/>
<text x="844.2" y="2748.0" font-size="35.6" font-weight="bold" fill="#000" textLength="223.6" lengthAdjust="spacingAndGlyphs">Em vigilância</text>
<rect x="1122.4" y="2723.5" width="23.6" height="24.4" fill="#ff0000"/>
<text x="1156.1" y="2748.0" font-size="35.6" font-weight="bold" fill="#000" textLength="327.9" lengthAdjust="spacingAndGlyphs">Casos Confirmados</text>
<rect x="1537.6" y="2723.5" width="23.6" height="24.4" fill="#000"/>
<text x="1568.9" y="2748.0" font-size="35.6" font-weight="bold" fill="#000" textLength="116.6" lengthAdjust="spacingAndGlyphs">Óbitos</text>
<text x="1830.8" y="3321.2" font-size="41.8" font-weight="bold" fill="#0070c0" textLength="290.7" lengthAdjust="spacingAndGlyphs">INFO CODIV-19</text>
<text x="2162.6" y="3321.2" font-size="41.8" font-weight="bold" fill="#0070c0" textLength="23.1" lengthAdjust="spacingAndGlyphs">2</text>
</svg></body></html>
